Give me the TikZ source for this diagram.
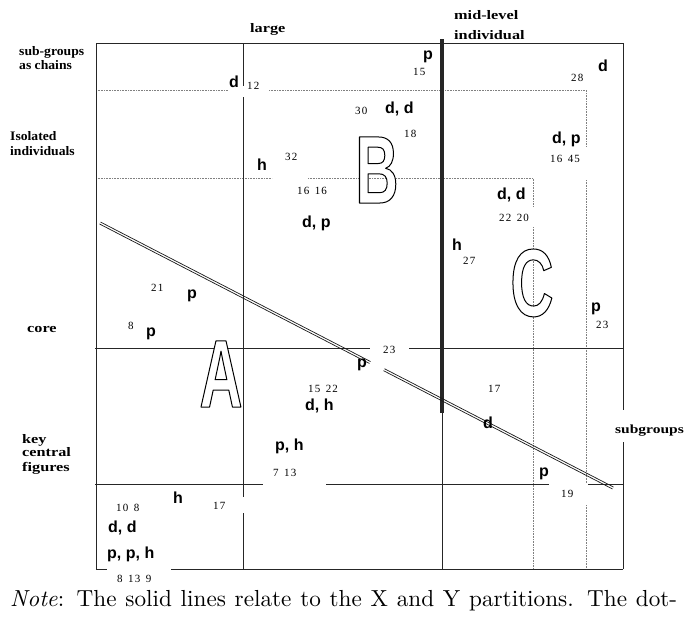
\documentclass[tikz,border=0pt]{standalone}
\usepackage{fontspec}
\usetikzlibrary{calc}
\newfontfamily\sansfam{Liberation Sans}
\newfontfamily\numfam{Liberation Serif}[LetterSpace=10]
\newfontfamily\lblA{Liberation Serif}[FakeStretch=1.05]
\newfontfamily\lblB{Liberation Serif}[FakeStretch=1.25]
\newfontfamily\bigfam{Liberation Sans}[FakeStretch=0.62]
\newfontfamily\notefont{lmroman10-regular}[Extension=.otf, ItalicFont=lmroman10-italic]
\newcommand\numgap{\hspace{5.5pt}}
\newcommand\hollowletter[1]{%
  \color{white}\special{pdf:literal 0 G 1 w 1 j 2 Tr}#1\special{pdf:literal 0 Tr}}
\tikzset{
  lab/.style={font=\sansfam\bfseries\fontsize{16}{19}\selectfont, inner sep=0pt, anchor=base west},
  num/.style={font=\numfam\fontsize{11}{13}\selectfont, inner sep=0pt, anchor=base west},
  catA/.style={font=\lblA\bfseries\fontsize{13}{15}\selectfont, inner sep=0pt, anchor=base west},
  catB/.style={font=\lblB\bfseries\fontsize{13}{15}\selectfont, inner sep=0pt, anchor=base west},
  bigl/.style={font=\bigfam\bfseries\fontsize{96}{100}\selectfont, inner sep=0pt, anchor=base},
  frameline/.style={line width=0.9pt, black!85},
  partline/.style={line width=0.8pt, black!85},
  midline/.style={line width=3.6pt, black!85},
  dotline/.style={line width=0.6pt, black!50, dash pattern=on 0.6pt off 1pt},
  dblline/.style={line width=0.7pt, black!90},
}
\begin{document}
\begin{tikzpicture}[x=1pt,y=-1pt]
\fill[white] (0,0) rectangle (687,616);
\useasboundingbox (0,0) rectangle (687,616);
% corners
\coordinate (TL) at (96,43);
\coordinate (TR) at (623,43);
\coordinate (BL) at (96,569);
\coordinate (BR) at (623,569);
% dotted partitions
\draw[dotline] (96,90) -- (228,90);
\draw[dotline] (269,90) -- (586,90) -- (586,147);
\draw[dotline] (586,180) -- (586,483);
\draw[dotline] (586,505) -- (586,569);
\draw[dotline] (96,178) -- (272,178);
\draw[dotline] (308,178) -- (533,178) -- (533,207);
\draw[dotline] (533,227) -- (533,569);
% frame
\draw[frameline] (TL) -- (TR);
\draw[frameline] (TL) -- (BL);
\draw[frameline] (BL) -- (107,569);
\draw[frameline] (171,569) -- (BR);
\draw[frameline] (TR) -- (623,410);
\draw[frameline] (623,442) -- (BR);
% solid partitions
\draw[partline] (243,43) -- (243,86);
\draw[partline] (243,97) -- (243,497);
\draw[partline] (243,513) -- (243,569);
\draw[partline] (442,413) -- (442,569);
\draw[midline] (442,39) -- (442,413);
\draw[partline] (95,348) -- (370,348);
\draw[partline] (409,348) -- (623,348);
\draw[partline] (95,484) -- (263,484);
\draw[partline] (326,484) -- (549,484);
\draw[partline] (588,484) -- (623,484);
% double diagonal
\coordinate (D1) at (100,223);
\coordinate (D2) at (370,362.5);
\coordinate (D3) at (384,369.7);
\coordinate (D4) at (613,488);
\foreach \s in {-1,1}{
  \draw[dblline, transform canvas={shift={(\s*0.5pt,\s*0.97pt)}}] (D1) -- (D2) (D3) -- (D4);
}
% hollow letters
\node[bigl] (bigA) at (221,407) {\hollowletter{A}};
\node[bigl] (bigB) at (377,203) {\hollowletter{B}};
\node[bigl] (bigC) at (532,316) {\hollowletter{C}};
% category labels
\node[catA] (sg1) at (19,55) {sub-groups};
\node[catA] (sg2) at (19,69.3) {as chains};
\node[catA] (is1) at (10,140) {Isolated};
\node[catA] (is2) at (10,155) {individuals};
\node[catB] (lg) at (250,32) {large};
\node[catB] (ml1) at (454,19.5) {mid-level};
\node[catB] (ml2) at (454,39) {individual};
\node[catB] (co) at (27,332) {core};
\node[catB] (kc1) at (22,443) {key};
\node[catB] (kc2) at (22,456.5) {central};
\node[catB, font=\lblB\bfseries\fontsize{12.4}{15}\selectfont] (sub) at (615,433) {subgroups};
\node[catB] (kc3) at (22,471) {figures};
% bold letter labels
\node[lab] (l1) at (229,87) {d};
\node[lab] (l2) at (423,59) {p};
\node[lab] (l3) at (598,71) {d};
\node[lab] (l4) at (385,113) {d, d};
\node[lab] (l5) at (552,143) {d, p};
\node[lab] (l6) at (257,170) {h};
\node[lab] (l7) at (302,227) {d, p};
\node[lab] (l8) at (497,199) {d, d};
\node[lab] (l9) at (452,250) {h};
\node[lab] (l10) at (591,311) {p};
\node[lab] (l11) at (187,298) {p};
\node[lab] (l12) at (146,336) {p};
\node[lab] (l13) at (357,367) {p};
\node[lab] (l14) at (305,410) {d, h};
\node[lab] (l15) at (483,428) {d};
\node[lab] (l16) at (275,450) {p, h};
\node[lab] (l17) at (539,476) {p};
\node[lab] (l18) at (173,503) {h};
\node[lab] (l19) at (108,532) {d, d};
\node[lab] (l20) at (107,558) {p, p, h};
% numbers
\node[num] (n1) at (247,89) {12};
\node[num] (n2) at (413,75) {15};
\node[num] (n3) at (571,81) {28};
\node[num] (n4) at (355,114) {30};
\node[num] (n5) at (404,137) {18};
\node[num] (n6) at (550,162) {16\numgap45};
\node[num] (n7) at (285,160) {32};
\node[num] (n8) at (297,194) {16\numgap16};
\node[num] (n9) at (499,221) {22\numgap20};
\node[num] (n10) at (463,264) {27};
\node[num] (n11) at (596,328) {23};
\node[num] (n12) at (151,291) {21};
\node[num] (n13) at (128,329) {8};
\node[num] (n14) at (383,353) {23};
\node[num] (n15) at (308,392) {15\numgap22};
\node[num] (n16) at (488,392) {17};
\node[num] (n17) at (273,476) {7\numgap13};
\node[num] (n18) at (561,497) {19};
\node[num] (n19) at (213,509) {17};
\node[num] (n20) at (116,511) {10\numgap8};
\node[num] (n21) at (117,582) {8\numgap13\numgap9};
% note
\node[anchor=base west, inner sep=0pt, font=\notefont\fontsize{23.2}{27}\selectfont] (note) at (10,606)
  {\makebox[667pt][s]{\textit{Note}: The solid lines relate to the X and Y partitions. The dot-}};
\end{tikzpicture}
\end{document}
